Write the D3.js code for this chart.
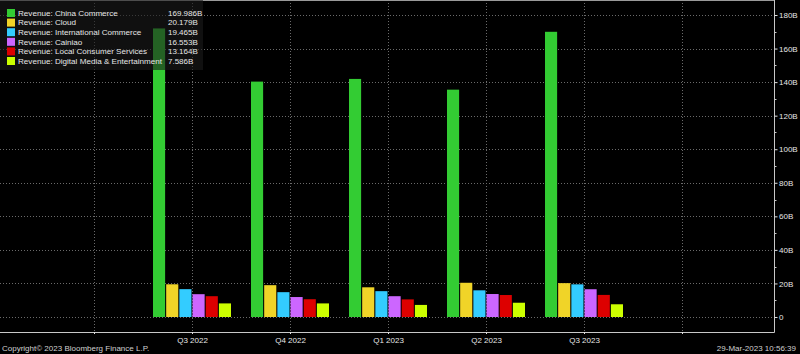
<!DOCTYPE html>
<html>
<head>
<meta charset="utf-8">
<script src="https://cdn.jsdelivr.net/npm/d3@7"></script>
<style>
  body { margin: 0; background: #000; }
  svg { display: block; font-family: "Liberation Sans", Arial, sans-serif; }
</style>
</head>
<body>
<div id="chart"></div>
<script>
// Axis slots (quarters) and the ones that carry data
const quarters = ["Q2 2022", "Q3 2022", "Q4 2022", "Q1 2023", "Q2 2023", "Q3 2023", "Q4 2023"];
const dataQuarters = ["Q3 2022", "Q4 2022", "Q1 2023", "Q2 2023", "Q3 2023"];

// Series (billions)
const seriesNames = [
  "Revenue: China Commerce",
  "Revenue: Cloud",
  "Revenue: International Commerce",
  "Revenue: Cainiao",
  "Revenue: Local Consumer Services",
  "Revenue: Digital Media & Entertainment",
];
const chinaCommerce = [172.0, 140.3, 141.9, 135.5, 169.986];
const cloud = [19.5, 18.97, 17.7, 20.4, 20.179];
const internationalCommerce = [16.6, 14.8, 15.4, 15.9, 19.465];
const cainiao = [13.6, 11.9, 12.4, 13.7, 16.553];
const localConsumer = [12.4, 10.6, 10.5, 13.1, 13.164];
const digitalMedia = [8.1, 8.1, 7.2, 8.5, 7.586];
const seriesValues = [chinaCommerce, cloud, internationalCommerce, cainiao, localConsumer, digitalMedia];

const yTicks = [0, 20, 40, 60, 80, 100, 120, 140, 160, 180];

const colors = ["#33cc33", "#f0d428", "#33ccff", "#cc66ff", "#dd0000", "#ccff00"];

const W = 800, H = 354;
const plotRight = 774, plotBottom = 332;

const svg = d3.select("#chart").append("svg").attr("width", W).attr("height", H);
svg.append("rect").attr("width", W).attr("height", H).attr("fill", "#000");

const xScale = d3.scalePoint().domain(quarters).range([94, 682]);
const yScale = d3.scaleLinear().domain([0, 180]).range([317, 15]);
const inner = d3.scaleBand().domain(d3.range(seriesNames.length)).range([-39, 39]).paddingInner(0.08);

// Grid lines
const grid = svg.append("g").attr("stroke", "#6a6a6a").attr("stroke-dasharray", "1,2").attr("stroke-width", 1);
grid.selectAll(".hg").data(yTicks).join("line")
  .attr("x1", 0).attr("x2", plotRight)
  .attr("y1", (d) => Math.round(yScale(d)) + 0.5).attr("y2", (d) => Math.round(yScale(d)) + 0.5);
grid.selectAll(".vg").data(quarters).join("line")
  .attr("x1", (d) => Math.round(xScale(d)) + 0.5).attr("x2", (d) => Math.round(xScale(d)) + 0.5)
  .attr("y1", 0).attr("y2", plotBottom);

// Bars
const rows = dataQuarters.map((q, i) => ({ q, vals: seriesValues.map((s) => s[i]) }));
const groups = svg.selectAll(".grp").data(rows).join("g")
  .attr("transform", (d) => `translate(${xScale(d.q)},0)`);
groups.selectAll("rect").data((d) => d.vals).join("rect")
  .attr("x", (d, i) => inner(i))
  .attr("width", inner.bandwidth())
  .attr("y", (d) => yScale(d))
  .attr("height", (d) => yScale(0) - yScale(d))
  .attr("fill", (d, i) => colors[i]);

// Frame: top line, bottom axis line
svg.append("line").attr("x1", 0).attr("x2", plotRight).attr("y1", 0.5).attr("y2", 0.5).attr("stroke", "#9a9a9a");
svg.append("line").attr("x1", 0).attr("x2", plotRight + 0.5).attr("y1", plotBottom + 0.5).attr("y2", plotBottom + 0.5).attr("stroke", "#c8c8c8");

// Right y axis
const yAxis = svg.append("g").attr("transform", `translate(${plotRight + 0.5},0)`)
  .call(d3.axisRight(yScale).tickValues(yTicks).tickSize(3).tickPadding(1.5)
    .tickFormat((d) => (d === 0 ? "0" : d + "B")));
yAxis.select(".domain").attr("d", `M0,0V${plotBottom + 0.5}`).attr("stroke", "#c8c8c8");
yAxis.selectAll(".tick line").attr("stroke", "#e0e0e0");
yAxis.selectAll(".tick text").attr("fill", "#e6e6e6").style("font-size", "8px");
// minor ticks
yAxis.selectAll(".minor").data(d3.range(10, 190, 20)).join("line")
  .attr("x1", 0).attr("x2", 2)
  .attr("y1", (d) => Math.round(yScale(d)) + 0.5).attr("y2", (d) => Math.round(yScale(d)) + 0.5)
  .attr("stroke", "#c8c8c8");

// Bottom x axis labels
const xAxis = svg.append("g").attr("transform", `translate(0,${plotBottom})`)
  .call(d3.axisBottom(xScale).tickSize(2).tickPadding(3)
    .tickFormat((d) => (dataQuarters.includes(d) ? d : "")));
xAxis.select(".domain").remove();
xAxis.selectAll(".tick line").attr("stroke", "#e0e0e0");
xAxis.selectAll(".tick text").attr("fill", "#e6e6e6").style("font-size", "8px");

// Legend
const legend = svg.append("g");
legend.append("rect").attr("x", 0).attr("y", 0).attr("width", 203).attr("height", 70)
  .attr("fill", "#1a1a1a").attr("fill-opacity", 0.6);
const legRows = legend.selectAll(".lr").data(seriesNames).join("g")
  .attr("transform", (d, i) => `translate(0,${13 + i * 9.6})`);
legRows.append("rect").attr("x", 7).attr("y", -4).attr("width", 8).attr("height", 8)
  .attr("fill", (d, i) => colors[i]);
legRows.append("text").attr("x", 18).attr("dy", "0.35em").attr("fill", "#e6e6e6")
  .style("font-size", "8.1px").text((d) => d);
legRows.append("text").attr("x", 168).attr("dy", "0.35em").attr("fill", "#e6e6e6")
  .style("font-size", "8px")
  .text((d, i) => d3.format(".3f")(seriesValues[i][seriesValues[i].length - 1]) + "B");

// Footer
svg.append("text").attr("x", 2).attr("y", 351).attr("fill", "#d0d0d0").style("font-size", "8px")
  .text("Copyright\u00A9 2023 Bloomberg Finance L.P.");
svg.append("text").attr("x", 796).attr("y", 351).attr("text-anchor", "end").attr("fill", "#d0d0d0")
  .style("font-size", "8px").text("29-Mar-2023 10:56:39");
</script>
</body>
</html>
